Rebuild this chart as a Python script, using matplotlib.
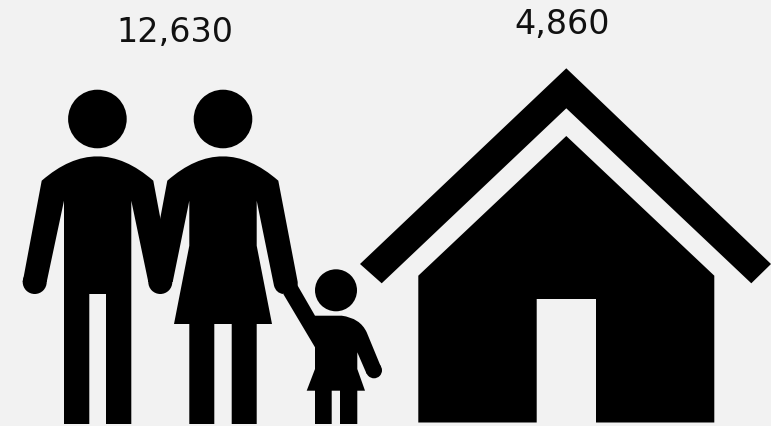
import matplotlib

matplotlib.use("Agg")
import matplotlib.pyplot as plt
from matplotlib.patches import Circle, PathPatch
from matplotlib.path import Path

values = [12630, 4860]
value_labels = [f"{v:,}" for v in values]

BG = "#f2f2f2"
INK = "#000000"
TEXT = "#111111"


def outline(start, *segs):
    # a seg is (x, y) for a line, or ((cx, cy), (x, y)) for a quadratic curve
    verts = [start]
    codes = [Path.MOVETO]
    for s in segs:
        if isinstance(s[0], tuple):
            verts += [s[0], s[1]]
            codes += [Path.CURVE3, Path.CURVE3]
        else:
            verts.append(s)
            codes.append(Path.LINETO)
    verts.append(start)
    codes.append(Path.CLOSEPOLY)
    return Path(verts, codes)


man = outline(
    (41.7, 181.7), ((97.5, 133), (153.3, 181.7)), (172.3, 283), (148.3, 283),
    (131.3, 201.7), (131.3, 425), (106, 425), (106, 295), (89.3, 295), (89.3, 425),
    (64, 425), (64, 201.7), (46.7, 283), (22.7, 283),
)
woman = outline(
    (167.3, 181.7), ((222.8, 133), (278.3, 181.7)), (297.7, 283), (297.7, 287), (283, 295),
    ((276, 294), (274, 286.7)), (256.7, 201.7), (256.7, 246.7), (272, 325), (256.7, 325),
    (256.7, 425), (231.7, 425), (231.7, 325), (214.3, 325), (214.3, 425), (189.3, 425),
    (189.3, 325), (174, 325), (189.3, 246.7), (189.3, 201.7), (172.7, 283), (148.3, 283),
)
child = outline(
    (283.3, 295), (290, 284), (297.7, 286.7), (315, 316.7), (341.7, 316.7),
    ((360, 319), (366.7, 333.3)), (381, 368), (366.7, 375), (357.3, 353.3), (357.3, 370),
    (365, 391.7), (357.3, 391.7), (357.3, 425), (340, 425), (340, 391.7), (331.7, 391.7),
    (331.7, 425), (315, 425), (315, 391.7), (306.7, 391.7), (315, 370), (315, 348.3),
)
roof = outline(
    (566.3, 69.3), (771, 265), (751.3, 284.3), (566.3, 109.3), (381.7, 284.3), (360, 265),
)
house = outline(
    (566.3, 137), (714.3, 276.7), (714.3, 423.5), (596, 423.5), (596, 300), (536.7, 300),
    (536.7, 423.5), (418.3, 423.5), (418.3, 276.7),
)

# centre x, centre y, radius
heads = [(97.4, 120, 29.3), (223, 120, 29.3), (336, 291.3, 21)]
hands = [(34.7, 283, 12), (160.3, 283, 12), (374, 371.3, 8)]

fig = plt.figure(figsize=(7.71, 4.27), dpi=100, facecolor=BG)
ax = fig.add_axes([0, 0, 1, 1])
ax.set_xlim(0, 771)
ax.set_ylim(427, 0)
ax.axis("off")

for p in [man, woman, child, roof, house]:
    ax.add_patch(PathPatch(p, facecolor=INK, edgecolor="none", lw=0))
for x, y, r in heads + hands:
    ax.add_patch(Circle((x, y), r, facecolor=INK, edgecolor="none", lw=0))

ax.text(175, 42, value_labels[0], ha="center", va="baseline", fontsize=24, color=TEXT,
        family="DejaVu Sans")
ax.text(562.5, 34.5, value_labels[1], ha="center", va="baseline", fontsize=24, color=TEXT,
        family="DejaVu Sans")

fig.savefig("out.png", dpi=100, facecolor=BG)
